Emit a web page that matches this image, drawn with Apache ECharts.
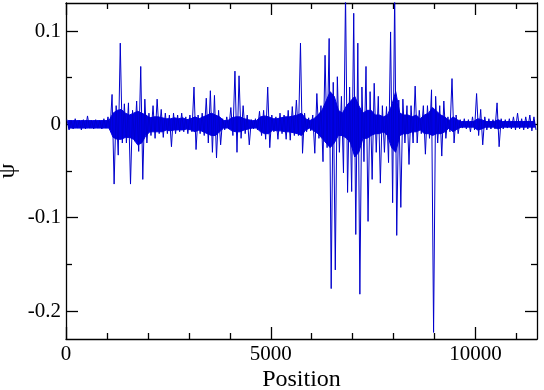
<!DOCTYPE html>
<html><head><meta charset="utf-8">
<script src="https://cdn.jsdelivr.net/npm/echarts@6/dist/echarts.min.js"></script>
<style>html,body{margin:0;padding:0;background:#fff}#c{width:544px;height:390px}</style>
</head><body><div id="c"></div>
<script>
// Envelope of the signal, read per 100-unit position bin (max and min of psi in each bin)
const binWidth = 100;
const upper = [
 0.005,0.004,0.006,0.004,0.005,0.009,0.004,0.005,0.004,0.006,
 0.008,0.032,0.020,0.087,0.022,0.023,0.015,0.025,0.062,0.027,
 0.012,0.020,0.027,0.016,0.012,0.010,0.012,0.010,0.012,0.008,
 0.010,0.040,0.010,0.012,0.028,0.036,0.031,0.015,0.006,0.008,
 0.018,0.057,0.052,0.020,0.010,0.005,0.006,0.014,0.015,0.040,
 0.010,0.008,0.012,0.010,0.015,0.019,0.026,0.087,0.012,0.007,
 0.010,0.033,0.020,0.074,0.092,0.045,0.051,0.030,0.140,0.040,
 0.119,0.087,0.040,0.062,0.035,0.044,0.030,0.020,0.019,0.099,
 0.140,0.026,0.027,0.020,0.020,0.041,0.015,0.020,0.020,0.037,
 0.030,0.020,0.025,0.008,0.049,0.010,0.005,0.006,0.005,0.008,
 0.033,0.016,0.008,0.006,0.005,0.023,0.006,0.005,0.006,0.008,
 0.012,0.006,0.008,0.010,0.008
];
const lower = [
 -0.006,-0.005,-0.004,-0.006,-0.005,-0.004,-0.005,-0.004,-0.005,-0.004,
 -0.006,-0.064,-0.033,-0.020,-0.020,-0.064,-0.018,-0.029,-0.059,-0.020,
 -0.012,-0.015,-0.010,-0.014,-0.010,-0.024,-0.010,-0.008,-0.008,-0.010,
 -0.008,-0.027,-0.010,-0.012,-0.020,-0.030,-0.036,-0.022,-0.006,-0.005,
 -0.012,-0.030,-0.015,-0.010,-0.022,-0.005,-0.006,-0.012,-0.016,-0.025,
 -0.008,-0.016,-0.010,-0.016,-0.017,-0.012,-0.012,-0.031,-0.008,-0.007,
 -0.031,-0.015,-0.040,-0.025,-0.176,-0.156,-0.030,-0.052,-0.073,-0.072,
 -0.118,-0.182,-0.040,-0.104,-0.059,-0.030,-0.063,-0.030,-0.041,-0.084,
 -0.119,-0.089,-0.020,-0.043,-0.020,-0.020,-0.010,-0.032,-0.015,-0.223,
 -0.020,-0.034,-0.015,-0.008,-0.020,-0.010,-0.004,-0.005,-0.008,-0.006,
 -0.012,-0.022,-0.006,-0.005,-0.005,-0.024,-0.005,-0.004,-0.005,-0.006,
 -0.005,-0.006,-0.005,-0.007,-0.006
];
// Dense (solid) part of the band per bin
const coreUpper = [
 0.004,0.004,0.004,0.004,0.004,0.004,0.004,0.004,0.004,0.004,
 0.004,0.012,0.015,0.016,0.012,0.010,0.012,0.014,0.012,0.010,
 0.007,0.008,0.008,0.007,0.006,0.006,0.007,0.006,0.007,0.005,
 0.006,0.008,0.006,0.008,0.010,0.012,0.010,0.008,0.004,0.004,
 0.007,0.008,0.008,0.006,0.005,0.004,0.004,0.008,0.009,0.008,
 0.006,0.006,0.007,0.008,0.008,0.009,0.010,0.012,0.006,0.004,
 0.006,0.010,0.015,0.025,0.035,0.030,0.015,0.012,0.020,0.025,
 0.030,0.020,0.012,0.015,0.015,0.010,0.010,0.008,0.010,0.020,
 0.035,0.012,0.010,0.010,0.008,0.010,0.006,0.010,0.012,0.018,
 0.014,0.010,0.008,0.004,0.008,0.005,0.003,0.003,0.003,0.003,
 0.006,0.005,0.003,0.003,0.003,0.005,0.003,0.003,0.003,0.003,
 0.003,0.003,0.003,0.003,0.003
];
const coreLower = [
 -0.004,-0.004,-0.004,-0.004,-0.004,-0.004,-0.004,-0.004,-0.004,-0.004,
 -0.004,-0.014,-0.016,-0.016,-0.014,-0.014,-0.016,-0.022,-0.020,-0.012,
 -0.008,-0.008,-0.008,-0.008,-0.006,-0.007,-0.006,-0.006,-0.006,-0.005,
 -0.006,-0.008,-0.006,-0.008,-0.010,-0.012,-0.012,-0.008,-0.004,-0.004,
 -0.007,-0.008,-0.008,-0.006,-0.005,-0.004,-0.004,-0.008,-0.010,-0.010,
 -0.006,-0.007,-0.007,-0.008,-0.008,-0.009,-0.010,-0.012,-0.006,-0.004,
 -0.007,-0.010,-0.015,-0.020,-0.025,-0.020,-0.012,-0.012,-0.015,-0.020,
 -0.035,-0.030,-0.015,-0.015,-0.012,-0.010,-0.010,-0.008,-0.012,-0.025,
 -0.030,-0.012,-0.010,-0.010,-0.008,-0.008,-0.006,-0.010,-0.010,-0.012,
 -0.010,-0.010,-0.008,-0.004,-0.008,-0.005,-0.003,-0.003,-0.003,-0.003,
 -0.006,-0.005,-0.003,-0.003,-0.003,-0.005,-0.003,-0.003,-0.003,-0.003,
 -0.003,-0.003,-0.003,-0.003,-0.003
];
const xMajorTicks = [0, 5000, 10000];
const xMinorTicks = [1000, 2000, 3000, 4000, 6000, 7000, 8000, 9000, 11000];
const yMajorTicks = [-0.2, -0.1, 0, 0.1];
const yMinorTicks = [-0.15, -0.05, 0.05];
const xTitle = 'Position';
const yTitle = 'ψ';

const spikeData = [];
const coreHiData = [];
const coreLoData = [];
for (let k = 0; k < upper.length; k++) {
  spikeData.push([k * binWidth + 25, upper[k]]);
  spikeData.push([k * binWidth + 75, lower[k]]);
  coreHiData.push([k * binWidth + 50, coreUpper[k]]);
  coreLoData.push([k * binWidth + 50, coreLower[k]]);
}

const font = 'Liberation Serif';
const lineStyle = { color: '#000', width: 1.3 };
const blue = '#0000e8';

function xAx(position, ticks, len, withLine, withLabels, name) {
  const a = {
    type: 'value', position: position, min: 0, max: 11500,
    splitLine: { show: false },
    axisLine: { show: withLine, lineStyle: lineStyle, onZero: false },
    axisTick: { show: true, inside: true, length: len, customValues: ticks, lineStyle: lineStyle },
    axisLabel: { show: withLabels, customValues: ticks, fontFamily: font, fontSize: 21, color: '#000', margin: 5,
      formatter: function (v) { return String(v); } }
  };
  if (name) {
    a.name = name; a.nameLocation = 'middle'; a.nameGap = 29; a.nameMoveOverlap = false;
    a.nameTextStyle = { fontFamily: font, fontSize: 24, color: '#000' };
  }
  return a;
}
function yAx(position, ticks, len, withLine, withLabels, name) {
  const a = {
    type: 'value', position: position, min: -0.23, max: 0.13,
    splitLine: { show: false },
    axisLine: { show: withLine, lineStyle: lineStyle, onZero: false },
    axisTick: { show: true, inside: true, length: len, customValues: ticks, lineStyle: lineStyle },
    axisLabel: { show: withLabels, customValues: ticks, fontFamily: font, fontSize: 21, color: '#000', margin: 5,
      formatter: function (v) { return String(v); } }
  };
  if (name) {
    a.name = name; a.nameLocation = 'middle'; a.nameGap = 46; a.nameRotate = 90; a.nameMoveOverlap = false;
    a.nameTextStyle = { fontFamily: font, fontSize: 24, color: '#000' };
  }
  return a;
}

const chart = echarts.init(document.getElementById('c'), null, { renderer: 'canvas' });
chart.setOption({
  animation: false,
  backgroundColor: '#fff',
  grid: { left: 66, right: 7, top: 3, bottom: 51, containLabel: false, outerBoundsMode: 'none' },
  xAxis: [
    xAx('bottom', xMajorTicks, 12, true, true, xTitle),
    xAx('bottom', xMinorTicks, 6, false, false),
    xAx('top', xMajorTicks, 12, true, false),
    xAx('top', xMinorTicks, 6, false, false)
  ],
  yAxis: [
    yAx('left', yMajorTicks, 12, true, true, yTitle),
    yAx('left', yMinorTicks, 6, false, false),
    yAx('right', yMajorTicks, 12, true, false),
    yAx('right', yMinorTicks, 6, false, false)
  ],
  series: [
    { type: 'line', data: coreHiData, showSymbol: false, symbol: 'none',
      lineStyle: { color: blue, width: 1 }, areaStyle: { color: blue, opacity: 1, origin: -0.002 }, clip: true },
    { type: 'line', data: coreLoData, showSymbol: false, symbol: 'none',
      lineStyle: { color: blue, width: 1 }, areaStyle: { color: blue, opacity: 1, origin: 0.002 }, clip: true },
    { type: 'line', data: spikeData, showSymbol: false, symbol: 'none',
      lineStyle: { color: '#0000cc', width: 1 }, clip: true }
  ]
});
</script></body></html>
